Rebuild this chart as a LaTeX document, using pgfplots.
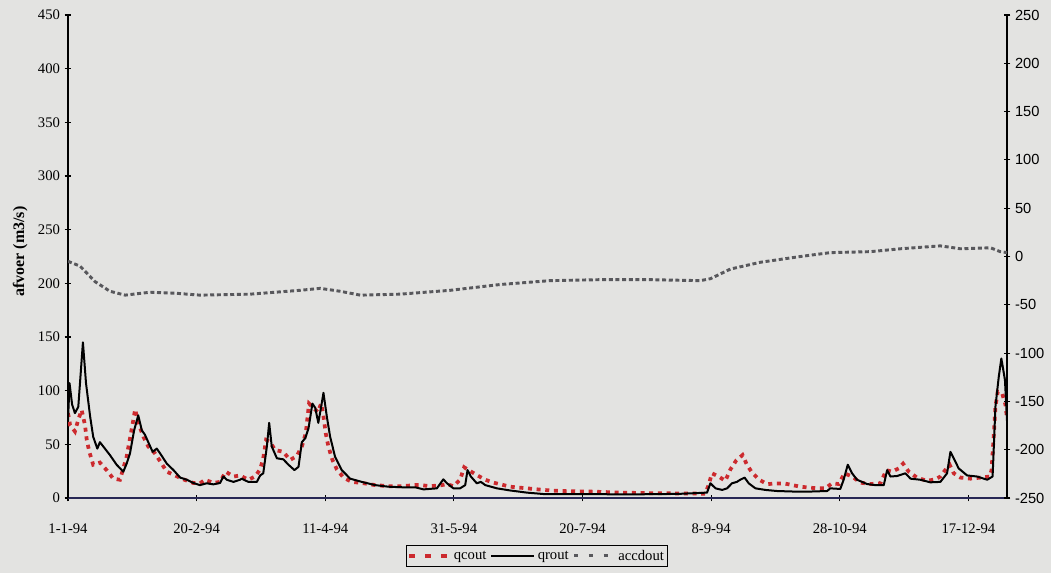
\documentclass[border=0pt]{standalone}
\usepackage{pgfplots}
\usepackage{pgfplotstable}
\usepackage{fontspec}
\pgfplotsset{compat=1.18}
\setmainfont{Liberation Serif}
\setsansfont{Liberation Sans}

\definecolor{paper}{RGB}{227,227,225}
\definecolor{qcred}{RGB}{204,42,46}
\definecolor{accgrey}{RGB}{88,88,92}
\definecolor{navyaxis}{RGB}{40,40,85}

% daily discharge, day 0 = 1-1-94
\pgfplotstableread{
day v
0 72
0.6 107
1.6 87
2.7 79
4 85
5.8 145
7 107
8.6 76
9.8 57
11.4 46
12.4 52
13.7 48
16.3 40
18.9 31
21.5 24.5
22.8 32
24.1 41.6
25.7 63
27.3 77
28.7 63
29.9 59
31.2 52
32.9 43
34.5 46
35.8 41.6
38.4 32
41 26
43.6 19
46.2 17
48.7 14
51.3 12
53.9 13.7
56.5 12.7
59.1 14
60.4 20
61.7 17
64.3 15
66.9 17
67.5 18
70.1 15
73.4 15
74.7 21
75.9 23
77.3 48
78.2 70
79.2 48
81.2 37
83.7 36
85.7 31
88 26
89.6 29
90.9 52
92.2 55.6
93.5 65
95 88
96.1 84
97.3 70
98.4 85
99.3 98
100.6 76
101.9 57
103.8 38.5
106.4 26
109.7 18
114.2 15
119.4 12
124.6 10.5
129.8 10
134.9 10
138.2 8
143.4 9
145.9 17.4
147.3 13.7
149.8 9
152.4 9
154.4 12
155.3 26
156.6 20
158.9 13.7
160.5 15
162.2 12
166.7 9
171.9 7
178.4 5
184.8 3.7
191.3 3.7
203 3.7
212 3.4
226.3 3.5
238 3.9
248.4 5
249.7 13.7
251.7 9
254.3 7.5
256.2 9
258.1 13.7
260 15
261.3 17
263 19
264.6 13.7
267.2 9
271.1 7.5
275.6 6.5
282.1 6
288.6 6
295.1 6.5
296.3 9
300.2 8.4
301.5 17
303.1 31
304.8 23
306.7 17
310.6 13
313.8 12
317.1 12
318.4 26
319.7 20
322.3 20.5
324.2 22
325.5 23
327.5 18
331.3 17
335.2 14.6
339.1 15
341.7 23
343 43
344.3 37
346.2 27.6
349.5 21
353.4 20
357.3 17
359.4 20
360.5 85
361.8 113
362.8 130
364.2 110
365 72
}\qrout

\pgfplotstableread{
day v
0 79
0.8 68
2.7 62
4 73
5.3 82
6.6 68
7.3 54
8.3 43
9.8 31
12.4 33
15 26
17.6 18
20.2 17
21.5 27.6
22.8 38.5
24.1 55.6
25.2 70
26.1 82.6
27.3 70
29.3 57
31.2 48
33.8 41.6
36.4 32
38.4 24.5
41.6 21
44.8 17.4
48.7 14
51.3 13.7
53.3 17
56.5 14
59.1 15
61.3 24.5
64.3 20
66.9 21
70.1 17
72.7 20
74.7 26.7
75.9 37
77 54
78.6 52
80.5 44.7
83.7 43
86.3 35.4
88.9 39
90.9 48
92.4 60
93.7 88
95.4 84
97.1 80
98.4 88
99.3 76
100.2 60
101.2 48
102.8 35.4
104.5 26.7
107.1 19
110.3 15
114.2 14
119.4 12
124.6 11
129.8 11
134.9 12
136.9 12
140.8 11
145.3 12
147.3 13
149.8 11
152.4 17
154 28.6
155.7 26
158.9 21.4
162.2 17
165.4 14.3
171.9 10.5
178.4 9
184.8 7.5
191.3 6.5
203 6
215 5
226.3 4.5
247.7 4
249 12
250.3 23
252.9 20
255.5 16
257.5 26.7
259.7 34.8
262.2 40
263.9 31
265.9 23.6
268.7 17
271.7 13
278.2 13.7
284.7 10.5
291.2 9
294.4 9
297 13.7
299.6 13
301.8 23
304.8 20
308 14.3
311.9 13
315.8 13.7
318.1 26
320.3 24.5
322.9 27.6
324.6 32
326.8 24.5
330 19
333.9 16
337.2 17.4
339.1 20
341 26
342.7 31
344.3 23
346.9 19
350.8 18
354.7 19
358.3 20
359 26
359.4 41.6
359.9 60
360.5 85
361.4 99
363.1 97.5
364.4 87
365 74
}\qcout

% accumulated difference, right-hand axis
\pgfplotstableread{
day v
0 -5
4.7 -10
10.5 -26
16.3 -36
22.2 -40
31.9 -37
41.6 -38
51.3 -40
70.8 -39
90.2 -35
98 -33
105.8 -36
113.6 -40
129.1 -39
148.6 -35
168 -29
187.4 -25
206.9 -24
226.3 -24
245.8 -25
249.7 -23
257.5 -13
269.1 -6
284.7 0
296.3 4
311.9 5
323.6 8
339.1 11
346.9 8
358.6 9
362.4 5
365 4
}\accdout

\begin{document}
\begin{tikzpicture}[x=1pt,y=1pt]
\fill[paper] (0,0) rectangle (788.25,429.75);
\useasboundingbox (0,0) rectangle (788.25,429.75);

\begin{axis}[
  at={(51pt,56.25pt)}, anchor=south west,
  scale only axis, width=704.25pt, height=362.25pt,
  xmin=0, xmax=365, ymin=0, ymax=450,
  axis x line*=bottom, axis y line*=left,
  x axis line style={navyaxis, line width=0.9pt, -},
  y axis line style={black, line width=0.9pt, -},
  tick align=center, major tick length=5pt,
  every tick/.style={black, line width=0.8pt},
  xtick={0,50,...,350},
  xticklabels={1-1-94,20-2-94,11-4-94,31-5-94,20-7-94,8-9-94,28-10-94,17-12-94},
  xticklabel style={font=\fontsize{11}{13}\selectfont, yshift=-13pt},
  ytick={0,50,...,450},
  yticklabel style={font=\fontsize{11}{13}\selectfont},
  /pgf/number format/assume math mode=true,
  ylabel={afvoer (m3/s)},
  ylabel style={font=\fontsize{12}{14}\selectfont\bfseries,
    at={(axis description cs:-0.051,0.51)}, anchor=center},
  legend columns=3,
  legend style={at={(axis description cs:0.4995,-0.12)}, anchor=center,
    draw=black, line width=0.7pt, fill=none,
    font=\fontsize{11}{12}\selectfont, inner sep=1pt,
    /tikz/every even column/.append style={column sep=1pt}},
  legend image code/.code={\draw[#1] (0pt,0pt) -- (32pt,0pt);},
]
\addplot[qcred, line width=2.8pt, dash pattern=on 3pt off 3.5pt,
  legend image code/.code={\draw[qcred, line width=2.8pt, dash pattern=on 4pt off 8pt] (2pt,0pt) -- (32pt,0pt);}]
  table[x=day,y=v] {\qcout};
\addlegendentry{qcout}
\addplot[black, line width=1.5pt, line join=round] table[x=day,y=v] {\qrout};
\addlegendentry{qrout}
\addlegendimage{legend image code/.code={\draw[accgrey, line width=2.2pt, dash pattern=on 3pt off 8pt] (2pt,0pt) -- (32pt,0pt);}}
\addlegendentry{accdout}
\end{axis}

\begin{axis}[
  at={(51pt,56.25pt)}, anchor=south west,
  scale only axis, width=704.25pt, height=362.25pt,
  xmin=0, xmax=365, ymin=-250, ymax=250,
  axis x line=none, axis y line*=right,
  y axis line style={black, line width=0.9pt, -},
  tick align=center, major tick length=5pt,
  every tick/.style={black, line width=0.8pt},
  ytick={-250,-200,...,250},
  yticklabels={-250,-200,-150,-100,-50,0,50,100,150,200,250},
  yticklabel style={font=\sffamily\fontsize{11}{13}\selectfont},
]
\addplot[accgrey, line width=2.2pt, dash pattern=on 3pt off 2pt] table[x=day,y=v] {\accdout};
\end{axis}
\end{tikzpicture}
\end{document}
